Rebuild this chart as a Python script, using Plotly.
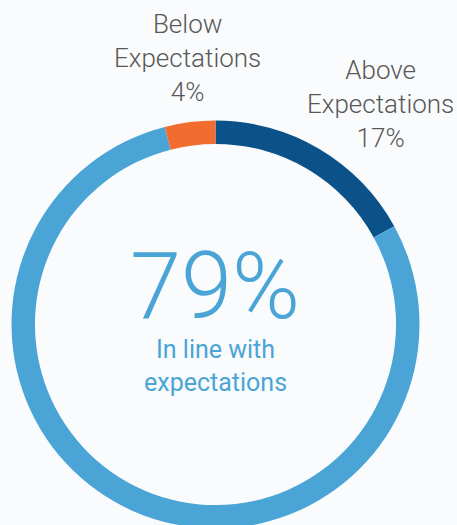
import plotly.graph_objects as go

# Share of results by category, clockwise from 12 o'clock
categories = ["Above Expectations", "In line with expectations", "Below Expectations"]
values = [17, 79, 4]
colors = ["#0a5289", "#4aa5d6", "#f26c30"]

W, H = 457, 530
BG = "#f9fbfd"
GREY = "#585858"

# Ring geometry in pixels (centre and outer radius)
cx, cy, R = 215.5, 324.5, 204.0

fig = go.Figure(
    go.Pie(
        labels=categories,
        values=values,
        marker=dict(colors=colors, line=dict(width=0)),
        hole=0.885,
        sort=False,
        direction="clockwise",
        rotation=0,
        textinfo="none",
        hoverinfo="label+percent",
        showlegend=False,
        domain=dict(
            x=[(cx - R) / W, (cx + R) / W],
            y=[(H - cy - R) / H, (H - cy + R) / H],
        ),
    )
)


def py(y_top):
    return 1 - y_top / H


label_font = dict(family="Roboto", size=26, color=GREY, weight=300)

fig.add_annotation(
    x=187 / W, y=py(58), xref="paper", yref="paper",
    text=f"Below<br>Expectations<br>{values[2]}%",
    showarrow=False, font=label_font, align="center",
    xanchor="center", yanchor="middle",
)
fig.add_annotation(
    x=380 / W, y=py(104), xref="paper", yref="paper",
    text=f"Above<br>Expectations<br>{values[0]}%",
    showarrow=False, font=label_font, align="center",
    xanchor="center", yanchor="middle",
)
fig.add_annotation(
    x=215 / W, y=py(286), xref="paper", yref="paper",
    text=f"{values[1]}%",
    showarrow=False,
    font=dict(family="Roboto", size=92, color=colors[1], weight=300),
    xanchor="center", yanchor="middle",
)
fig.add_annotation(
    x=215 / W, y=py(366), xref="paper", yref="paper",
    text="In line with<br>expectations",
    showarrow=False,
    font=dict(family="Roboto", size=25, color=colors[1], weight=400),
    align="center", xanchor="center", yanchor="middle",
)

fig.update_layout(
    width=W, height=H,
    margin=dict(l=0, r=0, t=0, b=0),
    paper_bgcolor=BG, plot_bgcolor=BG,
)

fig.write_html(
    "out.html",
    config={"displayModeBar": False},
    post_script="document.documentElement.style.overflow='hidden';document.body.style.overflow='hidden';",
)
